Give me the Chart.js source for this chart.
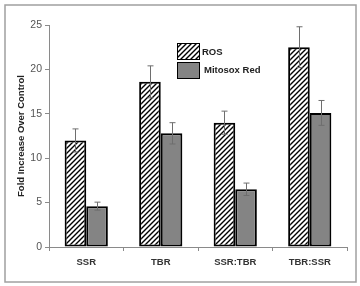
<!DOCTYPE html>
<html>
<head>
    <meta charset="utf-8">
    <title>Fold increase</title>
    <script src="https://cdn.jsdelivr.net/npm/chart.js@4.4.0/dist/chart.umd.min.js"></script>
    <style>
        body { margin: 0; background: #fff; }
    </style>
</head>
<body>
    <canvas id="myChart" width="360" height="286"></canvas>
    <script>
        // data
        const groups = ['SSR', 'TBR', 'SSR:TBR', 'TBR:SSR'];
        const rosValues = [12.0, 18.6, 14.0, 22.5];
        const rosErrors = [1.3, 1.8, 1.3, 2.3];
        const mitoValues = [4.6, 12.8, 6.5, 15.1];
        const mitoErrors = [0.45, 1.2, 0.7, 1.4];
        const yTicks = [0, 5, 10, 15, 20, 25];

        // diagonal hatch for the ROS bars
        function makeHatch() {
            const c = document.createElement('canvas');
            c.width = 5; c.height = 5;
            const g = c.getContext('2d');
            g.fillStyle = '#fff';
            g.fillRect(0, 0, 5, 5);
            g.strokeStyle = '#000';
            g.lineWidth = 1.4;
            g.beginPath();
            g.moveTo(-1, 6); g.lineTo(6, -1);
            g.moveTo(-1, 1); g.lineTo(1, -1);
            g.moveTo(4, 6); g.lineTo(6, 4);
            g.stroke();
            return g.createPattern(c, 'repeat');
        }
        const hatch = makeHatch();

        const errs = [rosErrors, mitoErrors];

        const errorBars = {
            id: 'errorBars',
            afterDatasetsDraw(chart) {
                const ctx = chart.ctx;
                const y = chart.scales.y;
                ctx.save();
                ctx.strokeStyle = '#6e6e6e';
                ctx.lineWidth = 1;
                chart.data.datasets.forEach((ds, i) => {
                    chart.getDatasetMeta(i).data.forEach((bar, j) => {
                        const v = ds.data[j], e = errs[i][j];
                        const top = y.getPixelForValue(v + e);
                        const bot = y.getPixelForValue(v - e);
                        const x = Math.round(bar.x) + 0.5;
                        ctx.beginPath();
                        ctx.moveTo(x, top); ctx.lineTo(x, bot);
                        ctx.moveTo(x - 3, top); ctx.lineTo(x + 3, top);
                        ctx.moveTo(x - 3, bot); ctx.lineTo(x + 3, bot);
                        ctx.stroke();
                    });
                });
                ctx.restore();
            }
        };

        const frame = {
            id: 'frame',
            afterDraw(chart) {
                const ctx = chart.ctx;
                ctx.save();
                ctx.strokeStyle = '#a0a0a0';
                ctx.lineWidth = 1.5;
                ctx.strokeRect(5, 5, 351, 277);
                // legend inside the plot
                const items = [
                    { x: 177, y: 43, fill: hatch, text: chart.data.datasets[0].label, tx: 202, ty: 52 },
                    { x: 177, y: 62, fill: '#848484', text: chart.data.datasets[1].label, tx: 204, ty: 70 }
                ];
                items.forEach(it => {
                    ctx.fillStyle = it.fill;
                    ctx.fillRect(it.x, it.y, 22, 16);
                    ctx.strokeStyle = '#000';
                    ctx.lineWidth = 1;
                    ctx.strokeRect(it.x + 0.5, it.y + 0.5, 22, 16);
                    ctx.fillStyle = '#222';
                    ctx.font = 'bold 9.5px "Liberation Sans", Arial';
                    ctx.textBaseline = 'middle';
                    ctx.fillText(it.text, it.tx, it.ty);
                });
                ctx.restore();
            }
        };

        const config = {
            type: 'bar',
            data: {
                labels: groups,
                datasets: [
                    {
                        label: 'ROS',
                        data: rosValues,
                        backgroundColor: hatch,
                        borderColor: '#000',
                        borderWidth: 2,
                        borderSkipped: false
                    },
                    {
                        label: 'Mitosox Red',
                        data: mitoValues,
                        backgroundColor: '#848484',
                        borderColor: '#000',
                        borderWidth: 2,
                        borderSkipped: false
                    }
                ]
            },
            options: {
                responsive: false,
                animation: false,
                datasets: { bar: { barPercentage: 1.0, categoryPercentage: 0.58 } },
                layout: { padding: { left: 0, right: 13, top: 25, bottom: 0 } },
                plugins: {
                    legend: { display: false },
                    tooltip: { enabled: false }
                },
                scales: {
                    x: {
                        afterFit(s) { s.height = 39; },
                        border: { color: '#8a8a8a', width: 1 },
                        grid: { drawOnChartArea: false, tickLength: 4, color: '#8a8a8a', offset: true },
                        ticks: {
                            color: '#333',
                            font: { family: '"Liberation Sans", Arial', size: 9.5, weight: 'bold' },
                            padding: 6
                        }
                    },
                    y: {
                        min: 0,
                        max: 25,
                        afterFit(s) { s.width = 49; },
                        afterBuildTicks(s) { s.ticks = yTicks.map(v => ({ value: v })); },
                        border: { color: '#8a8a8a', width: 1 },
                        grid: { drawOnChartArea: false, tickLength: 4, color: '#8a8a8a' },
                        ticks: {
                            color: '#555',
                            font: { family: '"Liberation Sans", Arial', size: 10.5 },
                            padding: 3
                        },
                        title: {
                            display: true,
                            text: 'Fold Increase Over Control',
                            color: '#222',
                            font: { family: '"Liberation Sans", Arial', size: 9.5, weight: 'bold' },
                            padding: { top: 16, bottom: 4 }
                        }
                    }
                }
            },
            plugins: [errorBars, frame]
        };

        const myChart = new Chart(document.getElementById('myChart'), config);
    </script>
</body>
</html>
